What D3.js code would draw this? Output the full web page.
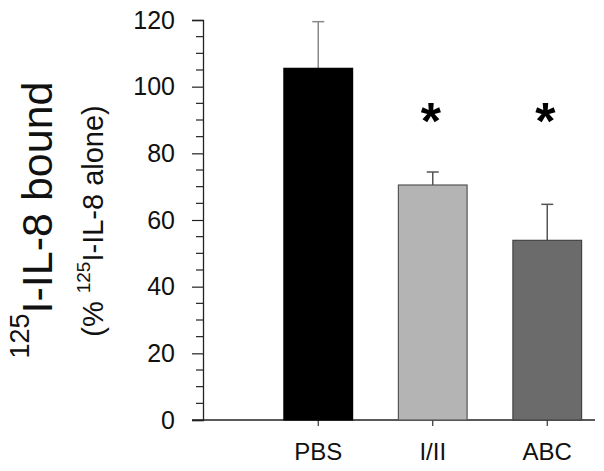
<!DOCTYPE html>
<html>
<head>
<meta charset="utf-8">
<script src="https://cdn.jsdelivr.net/npm/d3@7"></script>
<style>
  body { margin: 0; background: #fff; }
  svg { display: block; font-family: Arial, "Liberation Sans", sans-serif; }
</style>
</head>
<body>
<div id="chart"></div>
<script>
// DATA
const groups = ["PBS", "I/II", "ABC"];
const means = [105.5, 70.5, 53.9];
const errors = [14.0, 3.9, 10.8];
const significant = [false, true, true];
const yTicks = [0, 20, 40, 60, 80, 100, 120];
const fills = ["#000000", "#b4b4b4", "#6b6b6b"];
const strokes = ["#000000", "#555555", "#444444"];

const W = 604, H = 471;

const svg = d3.select("#chart")
    .append("svg")
    .attr("width", W)
    .attr("height", H);

// SCALES
const y = d3.scaleLinear()
    .domain([0, 120])
    .range([420, 20]);

const x = d3.scaleBand()
    .domain(groups)
    .range([261, 604.5])
    .paddingInner(0.4)
    .paddingOuter(0.2);

const axisX = 203;

// Y AXIS - minor ticks every 5, major every 20
const minor = d3.range(0, 121, 5).filter(v => v % 20 !== 0);

svg.append("g")
    .selectAll("line.minor")
    .data(minor)
    .enter()
    .append("line")
    .attr("x1", axisX - 7)
    .attr("x2", axisX)
    .attr("y1", d => y(d))
    .attr("y2", d => y(d))
    .attr("stroke", "#222")
    .attr("stroke-width", 1.2);

const yAxis = svg.append("g")
    .attr("transform", `translate(${axisX},0)`)
    .call(d3.axisLeft(y).tickValues(yTicks).tickSize(11).tickPadding(17));

yAxis.select(".domain").attr("stroke", "#222").attr("stroke-width", 1.3);
yAxis.selectAll(".tick line").attr("stroke", "#222").attr("stroke-width", 1.2);
yAxis.selectAll(".tick text")
    .attr("font-size", 25)
    .attr("font-family", "Arial, 'Liberation Sans', sans-serif")
    .attr("fill", "#111");

// X AXIS
const xAxis = svg.append("g")
    .attr("transform", "translate(0,420)")
    .call(d3.axisBottom(x).tickSize(6).tickPadding(17).tickSizeOuter(0));

xAxis.select(".domain").remove();
xAxis.append("line")
    .attr("x1", 192)
    .attr("x2", 595)
    .attr("stroke", "#222")
    .attr("stroke-width", 1.3);
xAxis.selectAll(".tick line").attr("stroke", "#333").attr("stroke-width", 1.2);
xAxis.selectAll(".tick text")
    .attr("font-size", 24)
    .attr("font-family", "Arial, 'Liberation Sans', sans-serif")
    .attr("fill", "#111");

// ERROR BARS (upper only)
const err = svg.append("g")
    .selectAll("g")
    .data(groups)
    .enter()
    .append("g")
    .attr("stroke", (d, i) => i === 0 ? "#888" : "#555")
    .attr("stroke-width", 1.5);

err.append("line")
    .attr("x1", d => x(d) + x.bandwidth() / 2)
    .attr("x2", d => x(d) + x.bandwidth() / 2)
    .attr("y1", (d, i) => y(means[i]))
    .attr("y2", (d, i) => y(means[i] + errors[i]));

err.append("line")
    .attr("x1", d => x(d) + x.bandwidth() / 2 - 6)
    .attr("x2", d => x(d) + x.bandwidth() / 2 + 6)
    .attr("y1", (d, i) => y(means[i] + errors[i]))
    .attr("y2", (d, i) => y(means[i] + errors[i]));

// BARS
svg.append("g")
    .selectAll("rect")
    .data(groups)
    .enter()
    .append("rect")
    .attr("x", d => x(d))
    .attr("y", (d, i) => y(means[i]))
    .attr("width", x.bandwidth())
    .attr("height", (d, i) => y(0) - y(means[i]))
    .attr("fill", (d, i) => fills[i])
    .attr("stroke", (d, i) => strokes[i])
    .attr("stroke-width", 1.2);

// SIGNIFICANCE STARS
svg.append("g")
    .selectAll("text")
    .data(groups.filter((d, i) => significant[i]))
    .enter()
    .append("text")
    .attr("x", d => x(d) + x.bandwidth() / 2 - 2)
    .attr("y", 139)
    .attr("text-anchor", "middle")
    .attr("font-size", 52)
    .attr("font-weight", "bold")
    .attr("fill", "#000")
    .text("*");

// Y AXIS TITLE
const title = svg.append("text")
    .attr("transform", "translate(51.5,220) rotate(-90)")
    .attr("text-anchor", "middle")
    .attr("font-size", 43)
    .attr("fill", "#111");
title.append("tspan").attr("font-size", 27).attr("dy", -23).text("125");
title.append("tspan").attr("dy", 23).text("I-IL-8 bound");

const sub = svg.append("text")
    .attr("transform", "translate(103,221) rotate(-90)")
    .attr("text-anchor", "middle")
    .attr("font-size", 29)
    .attr("fill", "#111");
sub.append("tspan").text("(% ");
sub.append("tspan").attr("font-size", 19).attr("dy", -13).text("125");
sub.append("tspan").attr("dy", 13).text("I-IL-8 alone)");
</script>
</body>
</html>
